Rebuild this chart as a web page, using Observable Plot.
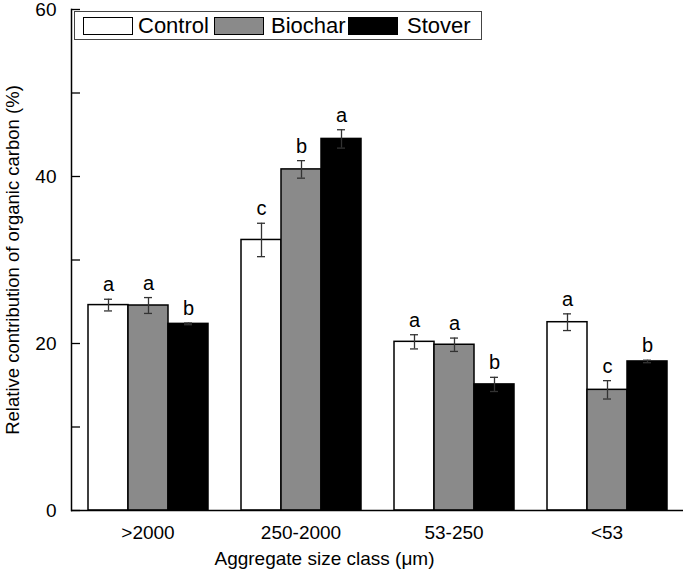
<!DOCTYPE html>
<html>
<head>
<meta charset="utf-8">
<script src="https://cdn.jsdelivr.net/npm/d3@7"></script>
<script src="https://cdn.jsdelivr.net/npm/@observablehq/plot@0.6"></script>
<style>
  html, body { margin: 0; padding: 0; background: white; }
  #wrap { position: relative; width: 685px; height: 582px; font-family: "Liberation Sans", Arial, sans-serif; }
  #legend { position: absolute; left: 74px; top: 11px; width: 408px; height: 29px; border: 1px solid #444; background: white; box-sizing: border-box; }
  .sw { position: absolute; top: 5px; width: 50px; height: 18px; border: 1.5px solid black; box-sizing: border-box; }
  .lt { position: absolute; top: 2px; font-size: 22px; line-height: 24px; color: black; }
</style>
</head>
<body>
<div id="wrap"></div>
<script>
const groups = [">2000", "250-2000", "53-250", "<53"];
const treatments = ["Control", "Biochar", "Stover"];
const colors = ["white", "#8a8a8a", "black"];

const control   = [24.6, 32.4, 20.2, 22.55];
const controlSD = [0.7, 2.0, 0.85, 1.0];
const biochar   = [24.55, 40.85, 19.85, 14.45];
const biocharSD = [0.95, 1.05, 0.8, 1.1];
const stover    = [22.35, 44.5, 15.1, 17.85];
const stoverSD  = [0.1, 1.1, 0.85, 0.15];

const controlLetters = ["a", "c", "a", "a"];
const biocharLetters = ["a", "b", "a", "c"];
const stoverLetters  = ["b", "a", "b", "b"];

const yTicks = [0, 10, 20, 30, 40, 50, 60];
const yLabel = "Relative contribution of organic carbon (%)";
const xLabel = "Aggregate size class (\u03bcm)";

const series = [
  [control, controlSD, controlLetters],
  [biochar, biocharSD, biocharLetters],
  [stover, stoverSD, stoverLetters]
];
const data = [];
groups.forEach((g, i) => {
  treatments.forEach((t, j) => {
    const [v, sd, l] = series[j];
    data.push({group: g, treatment: t, value: v[i], lo: v[i] - sd[i], hi: v[i] + sd[i], letter: l[i]});
  });
});

const font = "'Liberation Sans', Arial, sans-serif";

const chart = Plot.plot({
  width: 685,
  height: 582,
  marginLeft: 70,
  marginRight: 2,
  marginTop: 9,
  marginBottom: 72,
  style: {fontFamily: font, fontSize: "19px", color: "black", background: "white"},
  fx: {domain: groups, padding: 0, label: null},
  x: {domain: treatments, paddingInner: 0, paddingOuter: 0.377, axis: null},
  y: {domain: [0, 60], label: null},
  color: {domain: treatments, range: colors},
  marks: [
    Plot.barY(data, {fx: "group", x: "treatment", y: "value", fill: "treatment", stroke: "black", strokeWidth: 1.5}),
    Plot.ruleX(data, {fx: "group", x: "treatment", y1: "lo", y2: "hi", stroke: "#333", strokeWidth: 1.3}),
    Plot.tickY(data, {fx: "group", x: "treatment", y: "lo", stroke: "#333", strokeWidth: 1.3, insetLeft: 16, insetRight: 16}),
    Plot.tickY(data, {fx: "group", x: "treatment", y: "hi", stroke: "#333", strokeWidth: 1.3, insetLeft: 16, insetRight: 16}),
    Plot.text(data, {fx: "group", x: "treatment", y: "hi", text: "letter", lineAnchor: "bottom", dy: -8, fontSize: 20, fill: "black"}),
    Plot.ruleY([0], {stroke: "black", strokeWidth: 1.5}),
    Plot.frame({anchor: "left", facet: "super", stroke: "black", strokeWidth: 1.5}),
    Plot.axisY({ticks: yTicks, tickSize: -9, tickPadding: 24, tickFormat: d => d % 20 === 0 ? d : "", fontSize: 19, label: null, strokeWidth: 1.3}),
    Plot.axisFx({anchor: "bottom", tickSize: 0, tickPadding: 15, fontSize: 19, label: null}),
    Plot.text([yLabel], {text: d => d, frameAnchor: "left", textAnchor: "middle", lineAnchor: "middle", rotate: -90, dx: -58, fontSize: 18.5, facet: "super", fill: "black"}),
    Plot.text([xLabel], {text: d => d, frameAnchor: "bottom", textAnchor: "middle", dx: -53, dy: 54, fontSize: 19, facet: "super", fill: "black"})
  ]
});

const wrap = document.getElementById("wrap");
wrap.appendChild(chart);

const legend = document.createElement("div");
legend.id = "legend";
const swX = [8, 139, 273];
const txX = [63, 196, 332];
treatments.forEach((t, i) => {
  const sw = document.createElement("div");
  sw.className = "sw";
  sw.style.left = swX[i] + "px";
  sw.style.background = colors[i];
  legend.appendChild(sw);
  const tx = document.createElement("div");
  tx.className = "lt";
  tx.style.left = txX[i] + "px";
  tx.textContent = t;
  legend.appendChild(tx);
});
wrap.appendChild(legend);
</script>
</body>
</html>
